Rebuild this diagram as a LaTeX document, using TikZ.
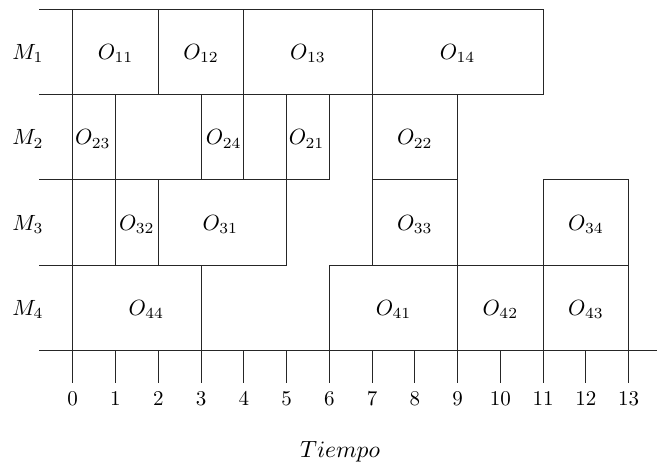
\documentclass[tikz,border=0pt]{standalone}
\begin{document}
\begin{tikzpicture}[x=42.77pt,y=85.35pt,
  grid/.style={line width=1pt,draw=black!85,line cap=rect},
  lab/.style={anchor=base,inner sep=0pt,scale=2.2},
  ticklab/.style={anchor=base,inner sep=0pt,scale=2.1},
  axlab/.style={anchor=base,inner sep=0pt,scale=2.35}]
\useasboundingbox (-1.700,-1.304) rectangle (13.661,4.109);
% horizontal lines
\draw[grid] (-0.765,4) -- (11,4);
\draw[grid] (-0.765,3) -- (11,3);
\draw[grid] (-0.765,2) -- (6,2) (7,2) -- (9,2) (11,2) -- (13,2);
\draw[grid] (-0.765,1) -- (5,1) (6,1) -- (13,1);
\draw[grid] (-0.765,0) -- (13.661,0);
% vertical lines
\draw[grid] (0,4) -- (0,-0.375);
\draw[grid] (2,3) -- (2,4) (4,2) -- (4,4) (7,1) -- (7,4) (11,3) -- (11,4);
\draw[grid] (1,1) -- (1,3) (3,2) -- (3,3) (5,1) -- (5,3) (6,2) -- (6,3) (9,0) -- (9,3);
\draw[grid] (2,1) -- (2,2) (11,0) -- (11,2) (13,0) -- (13,2);
\draw[grid] (3,0) -- (3,1) (6,0) -- (6,1);
% ticks
\foreach \x in {1,...,13} \draw[grid] (\x,0) -- (\x,-0.375);
\foreach \x in {0,...,13} \node[ticklab] (t\x) at (\x,-0.644) {$\x$};
\node[axlab] (tiempo) at (6.25,-1.254) {$Tiempo$};
% machine labels
\node[lab] (m1) at (-1.045,3.412) {$M_1$};
\node[lab] (m2) at (-1.045,2.412) {$M_2$};
\node[lab] (m3) at (-1.045,1.412) {$M_3$};
\node[lab] (m4) at (-1.045,0.412) {$M_4$};
% operations
\node[lab] (o11) at (1,3.412) {$O_{11}$};
\node[lab] (o12) at (3,3.412) {$O_{12}$};
\node[lab] (o13) at (5.5,3.412) {$O_{13}$};
\node[lab] (o14) at (9,3.412) {$O_{14}$};
\node[lab] (o23) at (0.47,2.412) {$O_{23}$};
\node[lab] (o24) at (3.53,2.412) {$O_{24}$};
\node[lab] (o21) at (5.47,2.412) {$O_{21}$};
\node[lab] (o22) at (8,2.412) {$O_{22}$};
\node[lab] (o32) at (1.5,1.412) {$O_{32}$};
\node[lab] (o31) at (3.45,1.412) {$O_{31}$};
\node[lab] (o33) at (8,1.412) {$O_{33}$};
\node[lab] (o34) at (12,1.412) {$O_{34}$};
\node[lab] (o44) at (1.72,0.412) {$O_{44}$};
\node[lab] (o41) at (7.5,0.412) {$O_{41}$};
\node[lab] (o42) at (10,0.412) {$O_{42}$};
\node[lab] (o43) at (12,0.412) {$O_{43}$};
\end{tikzpicture}
\end{document}
